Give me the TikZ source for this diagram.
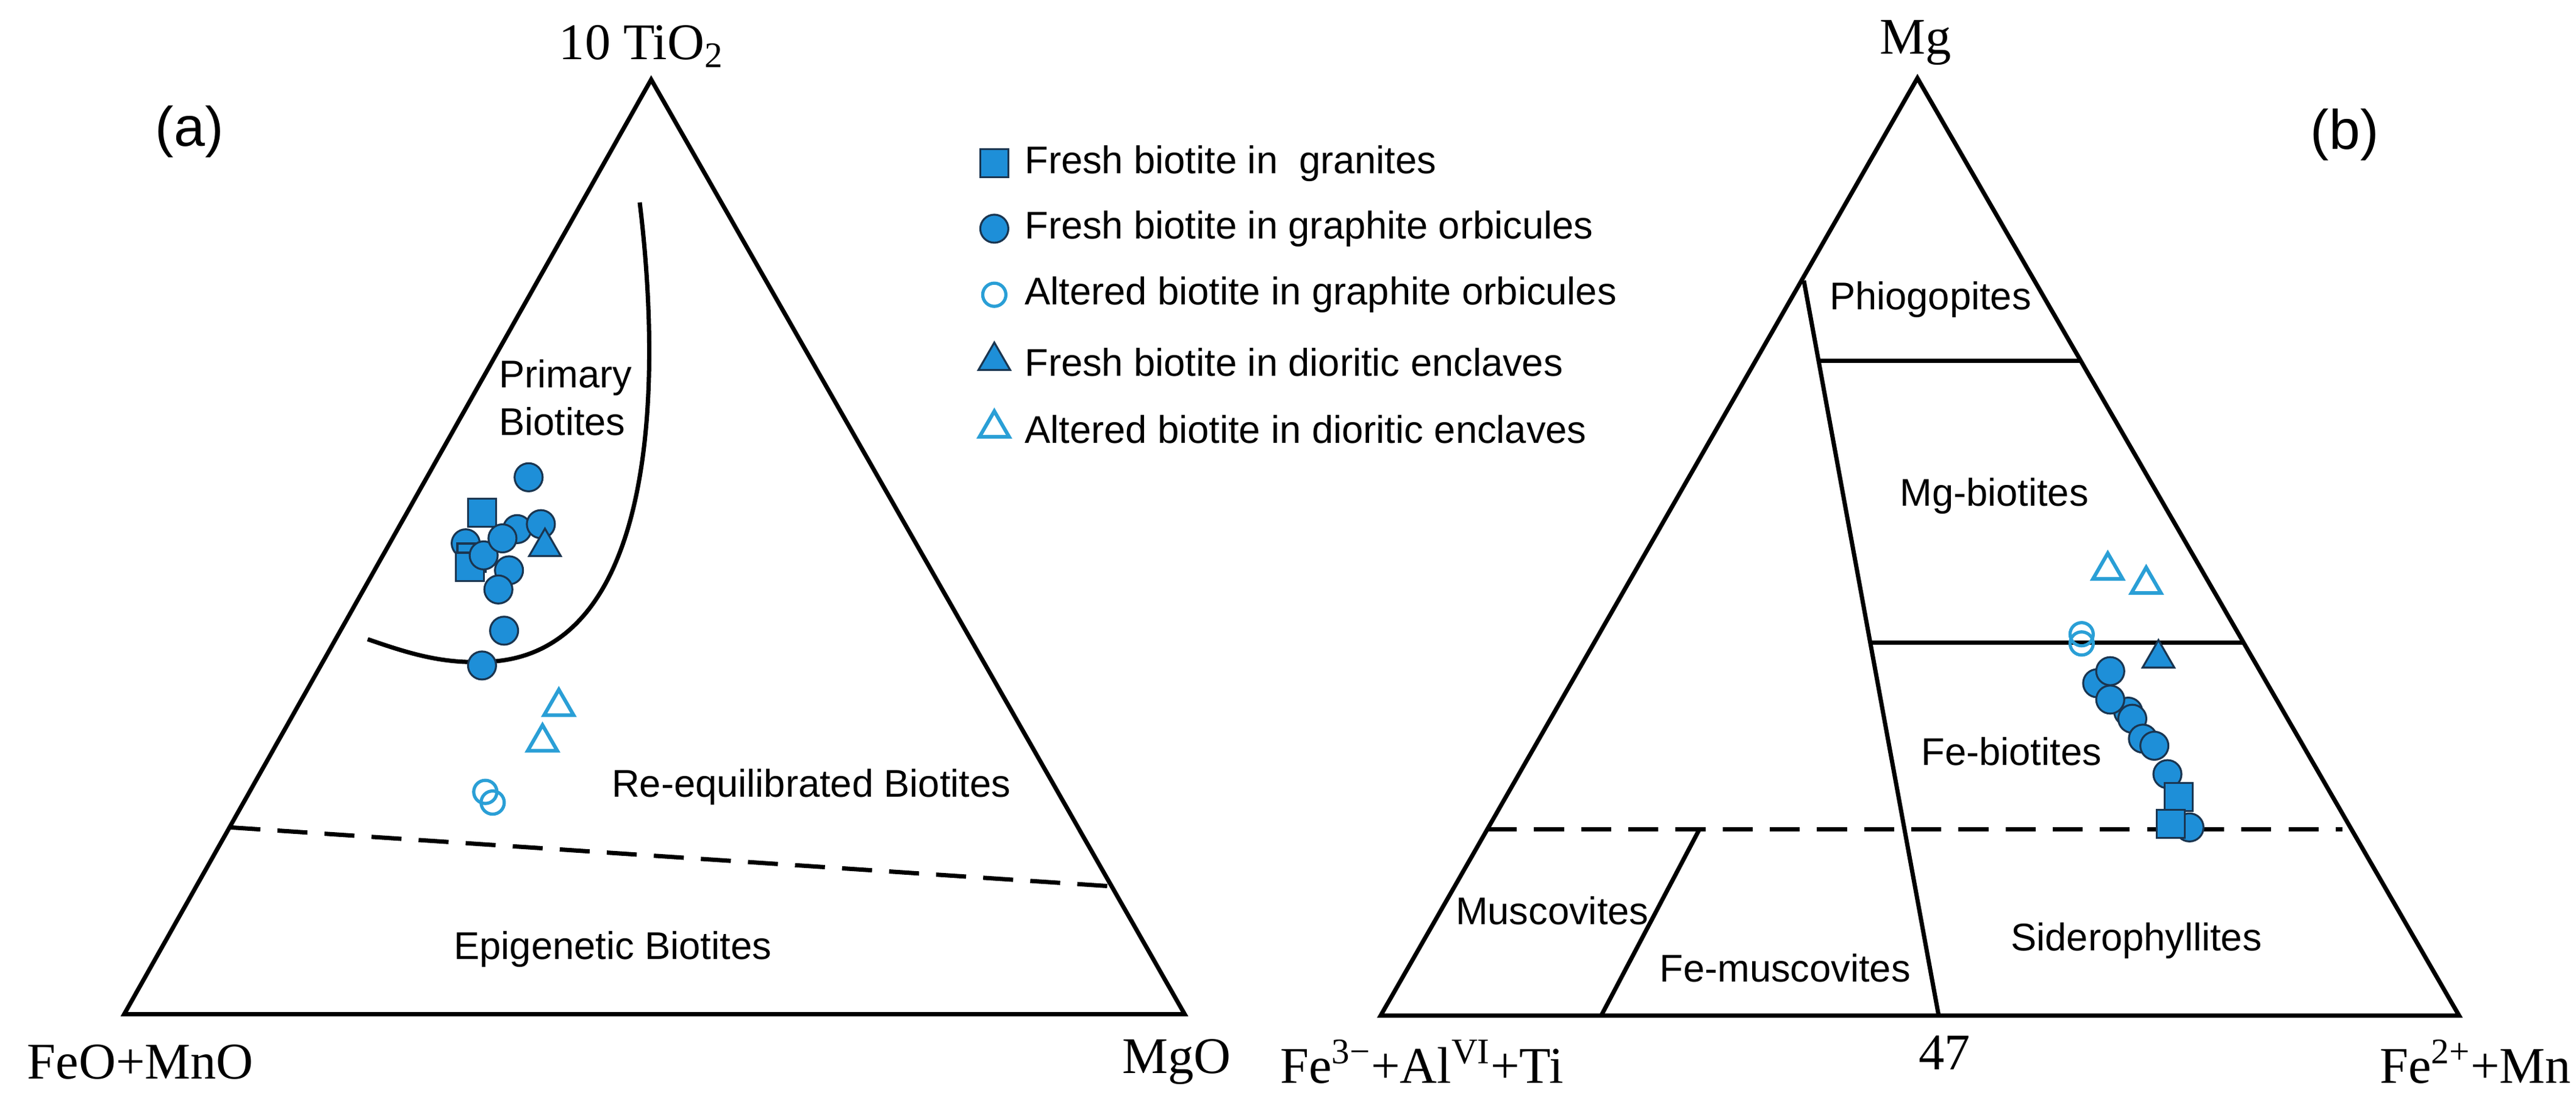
\documentclass[tikz,border=0pt]{standalone}
\usepackage{fontspec}
\setmainfont{Liberation Serif}
\setsansfont{Liberation Sans}
\usetikzlibrary{shapes.geometric}
\definecolor{fillb}{HTML}{1E8FD8}
\definecolor{edgeb}{HTML}{1A3550}
\definecolor{openb}{HTML}{2A9FD6}
\tikzset{
 frame/.style={line width=2pt, line join=miter},
 bnd/.style={line width=2pt},
 dsh/.style={line width=2pt, dash pattern=on 14pt off 8pt},
 ax/.style={font=\fontsize{24}{28}\selectfont},
 rg/.style={font=\sffamily\fontsize{18}{22}\selectfont},
 lg/.style={font=\sffamily\fontsize{18}{22}\selectfont, anchor=west},
 fc/.style={circle, draw=edgeb, fill=fillb, line width=0.9pt, minimum size=0.46cm, inner sep=0},
 fs/.style={rectangle, draw=edgeb, fill=fillb, line width=0.9pt, minimum size=0.46cm, inner sep=0},
 ft/.style={regular polygon, regular polygon sides=3, draw=edgeb, fill=fillb, line width=0.9pt, minimum size=0.6cm, inner sep=0},
 oc/.style={circle, draw=openb, line width=1.5pt, minimum size=0.38cm, inner sep=0},
 ot/.style={regular polygon, regular polygon sides=3, draw=openb, line width=1.7pt, minimum size=0.56cm, inner sep=0},
}
\begin{document}
\begin{tikzpicture}
\useasboundingbox (0,0) rectangle (42.24,-17.94);
\fill[white] (0,0) rectangle (42.24,-17.94);
% ---------- panel (a)
\begin{scope}[x=0.01339cm, y=-0.01165cm]
\coordinate (aA) at (797,112); \coordinate (aL) at (152,1428); \coordinate (aR) at (1450,1428);
\draw[frame] (aA) -- (aL) -- (aR) -- cycle;
\coordinate (c0) at (783,285); \coordinate (c1) at (590,932); \coordinate (c2) at (450,900);
\draw[bnd] (c0) .. controls (812,560) and (800,930) .. (c1) .. controls (540,934) and (500,920) .. (c2);
\coordinate (d0) at (282,1165); \coordinate (d1) at (1361,1248);
\draw[dsh] (d0) -- (d1);
\node[ax] (ta) at (785,65) {10 TiO\textsubscript{2}};
\node[ax, font=\sffamily\fontsize{26}{30}\selectfont] (la) at (232,185) {(a)};
\node[ax] (fa) at (172,1495) {FeO+MnO};
\node[ax] (ma) at (1440,1495) {MgO};
\node[rg, align=left] (pb) at (692,560) {Primary\\Biotites};
\node[rg] (rb) at (993,1108) {Re-equilibrated Biotites};
\node[rg] (eb) at (750,1337) {Epigenetic Biotites};
% markers
\node[fc] (a1) at (647,672) {};
\node[fs] (a2) at (590,722) {};
\node[fc] (a3) at (570,765) {};
\node[fs] (a4) at (577,785) {};
\node[fs] (a5) at (575,798) {};
\node[fc] (a6) at (592,782) {};
\node[fc] (a7) at (633,745) {};
\node[fc] (a8) at (662,738) {};
\node[ft] (a9) at (667,770) {};
\node[fc] (a10) at (615,758) {};
\node[fc] (a11) at (623,803) {};
\node[fc] (a12) at (610,830) {};
\node[fc] (a13) at (617,888) {};
\node[fc] (a14) at (590,937) {};
\node[ot] (a15) at (684,995) {};
\node[ot] (a16) at (664,1045) {};
\node[oc] (a17) at (594,1115) {};
\node[oc] (a18) at (603,1130) {};
% legend
\node[fs] (k1) at (1217,230) {}; \node[lg] (t1) at (1245,230) {Fresh biotite in\ \ granites};
\node[fc] (k2) at (1217,322) {}; \node[lg] (t2) at (1245,322) {Fresh biotite in graphite orbicules};
\node[oc] (k3) at (1217,415) {}; \node[lg] (t3) at (1245,415) {Altered biotite in graphite orbicules};
\node[ft] (k4) at (1217,508) {}; \node[lg] (t4) at (1245,510) {Fresh biotite in dioritic enclaves};
\node[ot] (k5) at (1217,603) {}; \node[lg] (t5) at (1245,605) {Altered biotite in dioritic enclaves};
\end{scope}
% ---------- panel (b)
\begin{scope}[xshift=21.5cm, x=0.01339cm, y=-0.01165cm]
\coordinate (bA) at (742,110); \coordinate (bL) at (85,1430); \coordinate (bR) at (1405,1430);
\draw[frame] (bA) -- (bL) -- (bR) -- cycle;
\coordinate (i0) at (603,395); \coordinate (i1) at (768,1430);
\draw[bnd] (i0) -- (i1);
\coordinate (h0) at (621,508); \coordinate (h1) at (942,508);
\draw[bnd] (h0) -- (h1);
\coordinate (g0) at (684,905); \coordinate (g1) at (1141,905);
\draw[bnd] (g0) -- (g1);
\coordinate (e0) at (215,1168); \coordinate (e1) at (1262,1168);
\draw[dsh] (e0) -- (e1);
\coordinate (m0) at (475,1168); \coordinate (m1) at (355,1430);
\draw[bnd] (m0) -- (m1);
\node[ax] (tb) at (740,60) {Mg};
\node[ax, font=\sffamily\fontsize{26}{30}\selectfont] (lb) at (1265,190) {(b)};
\node[ax, anchor=east] (fb) at (318,1495) {Fe\textsuperscript{3−}+Al\textsuperscript{VI}+Ti};
\node[ax] (nb) at (775,1482) {47};
\node[ax] (gb) at (1425,1495) {Fe\textsuperscript{2+}+Mn};
\node[rg] (r1) at (758,422) {Phiogopites};
\node[rg] (r2) at (836,698) {Mg-biotites};
\node[rg] (r3) at (857,1058) {Fe-biotites};
\node[rg] (r4) at (295,1282) {Muscovites};
\node[rg] (r5) at (580,1363) {Fe-muscovites};
\node[rg] (r6) at (1010,1325) {Siderophyllites};
\node[ot] (b1) at (975,803) {};
\node[ot] (b2) at (1022,823) {};
\node[oc] (b3) at (943,893) {};
\node[oc] (b4) at (943,906) {};
\node[ft] (b5) at (1037,927) {};
\node[fc] (b6) at (962,962) {};
\node[fc] (b7) at (978,945) {};
\node[fc] (b8) at (1000,1002) {};
\node[fc] (b9) at (978,985) {};
\node[fc] (b10) at (1005,1012) {};
\node[fc] (b11) at (1018,1040) {};
\node[fc] (b12) at (1032,1050) {};
\node[fc] (b13) at (1048,1090) {};
\node[fc] (b14) at (1075,1165) {};
\node[fs] (b15) at (1062,1122) {};
\node[fs] (b16) at (1052,1160) {};
\end{scope}
\end{tikzpicture}
\end{document}
